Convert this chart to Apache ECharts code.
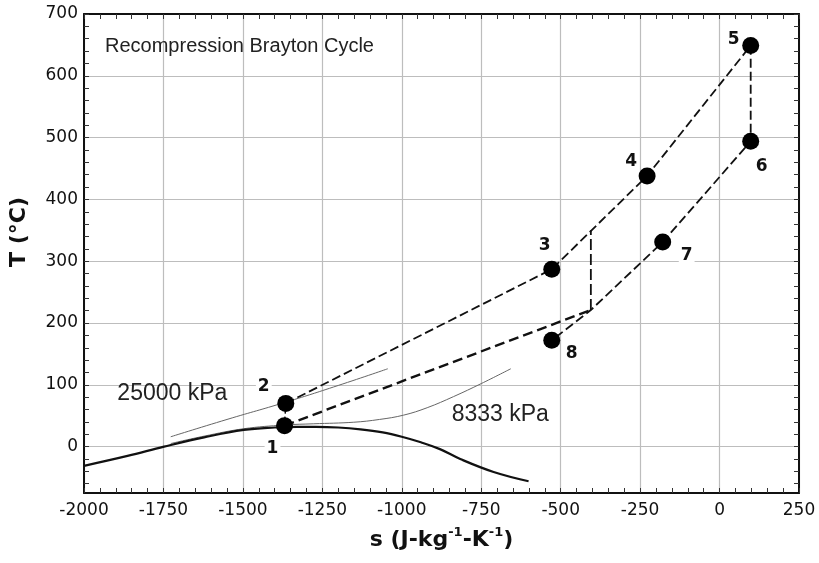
<!DOCTYPE html>
<html>
<head>
<meta charset="utf-8">
<script src="https://cdn.jsdelivr.net/npm/echarts@6.0.0/dist/echarts.min.js"></script>
<style>
html,body{margin:0;padding:0;background:#fff;}
#chart{width:819px;height:563px;}
</style>
</head>
<body>
<div id="chart"></div>
<script>
// ---- data ----
const xTickStep = 250;
const yTickLabels = [0, 100, 200, 300, 400, 500, 600, 700];
const yMinorTicks = [-60,-40,-20,0,20,40,60,80,100,120,140,160,180,200,220,240,260,280,300,320,340,360,380,400,420,440,460,480,500,520,540,560,580,600,620,640,660,680,700];

// saturation dome (s, T)
const domeS = [-2000,-1863,-1748,-1622,-1497,-1400,-1330,-1270,-1200,-1130,-1060,-1000,-940,-880,-816,-711,-601];
const domeT = [-31,-15,0,15,27,31,32,32,31,28,23,16,7,-4,-20,-41,-56];

// 25000 kPa isobar
const iso25000S = [-1727,-1550,-1365,-1200,-1044];
const iso25000T = [16,44,72,99,126];

// 8333 kPa isobar
const iso8333S = [-1727,-1622,-1497,-1369,-1277,-1151,-1070,-994,-920,-837,-750,-657];
const iso8333T = [5,17,29,35,37,39.5,44,51,63,81,102,126];

// state points
const stateNames = ['1','2','3','4','5','6','7','8'];
const stateS = [-1369,-1365,-528,-228,98,98,-179,-528];
const stateT = [34,70,287,438,649,494,331,172];

// mixing junction & recompressor outlet
const junctionS = -405, junctionT = 221;
const recompTopT = 350;

// text annotations
const isoLabelText = ['25000 kPa', '8333 kPa'];
const isoLabelS = [-1722, -690];
const isoLabelT = [85, 51];

// ---- helpers ----
const pairs = (xs, ys) => xs.map((x, i) => [x, ys[i]]);
const pt = i => [stateS[i], stateT[i]];

// main cycle path: 2 -> 3 -> 4 -> 5 -> 6 -> 7 -> junction -> 8
const mainPath = [pt(1), pt(2), pt(3), pt(4), pt(5), pt(6), [junctionS, junctionT], pt(7)];
const lowPath = [pt(0), [junctionS, junctionT]];
const vertPath = [[junctionS, junctionT], [junctionS, recompTopT]];
const compPath = [pt(0), pt(1)];

const labelOffsets = [[-12,23],[-22,-17],[-7,-24],[-16,-14],[-17,-6],[11,25],[24,14],[20,13]];

const dashStyle = {color:'#111', width:1.8, type:[9,4]};
const tickColor = '#333';

const chart = echarts.init(document.getElementById('chart'));
chart.setOption({
  animation:false,
  backgroundColor:'#fff',
  title:{
    text:'Recompression Brayton Cycle',
    left:105, top:36,
    padding:0,
    textStyle:{fontFamily:'Liberation Sans', fontSize:20, fontWeight:'normal', color:'#222'}
  },
  grid:{left:83, right:20, top:14, bottom:70, containLabel:false},
  xAxis:[{
    type:'value', min:-2000, max:250, interval:xTickStep, position:'bottom',
    name:'s (J-kg{sup|-1}-K{sup|-1})',
    nameLocation:'middle', nameGap:33,
    nameTextStyle:{fontFamily:'DejaVu Sans', fontSize:22, fontWeight:'bold', color:'#111', lineHeight:28,
      rich:{sup:{fontFamily:'DejaVu Sans', fontSize:13, fontWeight:'bold', color:'#111', verticalAlign:'top', lineHeight:13, padding:[0,0,15,0]}}},
    axisLine:{show:true, onZero:false, lineStyle:{color:'#111', width:2}},
    axisTick:{show:true, inside:true, length:5, lineStyle:{color:tickColor}},
    minorTick:{show:true, splitNumber:5, length:5, lineStyle:{color:tickColor}},
    axisLabel:{margin:9, fontFamily:'DejaVu Sans', fontSize:17, color:'#111', formatter:v => String(v)},
    splitLine:{show:true, lineStyle:{color:'#bdbdbd', width:1.2}}
  },{
    type:'value', min:-2000, max:250, interval:xTickStep, position:'top',
    axisLine:{show:true, onZero:false, lineStyle:{color:'#111', width:2}},
    axisTick:{show:true, inside:true, length:5, lineStyle:{color:tickColor}},
    minorTick:{show:true, splitNumber:5, length:5, lineStyle:{color:tickColor}},
    axisLabel:{show:false},
    splitLine:{show:false}
  }],
  yAxis:[{
    type:'value', min:-75, max:700, position:'left',
    name:'T (°C)', nameLocation:'middle', nameGap:54,
    nameTextStyle:{fontFamily:'DejaVu Sans', fontSize:22, fontWeight:'bold', color:'#111', padding:[0,0,0,43]},
    axisLine:{show:true, onZero:false, lineStyle:{color:'#111', width:2}},
    axisTick:{show:false, customValues:yTickLabels},
    axisLabel:{margin:6, customValues:yTickLabels, fontFamily:'DejaVu Sans', fontSize:17, color:'#111'},
    splitLine:{show:true, lineStyle:{color:'#bdbdbd', width:1.2}}
  },{
    type:'value', min:-75, max:700, position:'left',
    axisLine:{show:false, onZero:false},
    axisTick:{show:true, inside:true, length:5, customValues:yMinorTicks, lineStyle:{color:tickColor}},
    axisLabel:{show:false},
    splitLine:{show:false}
  },{
    type:'value', min:-75, max:700, position:'right',
    axisLine:{show:true, onZero:false, lineStyle:{color:'#111', width:2}},
    axisTick:{show:true, inside:true, length:5, customValues:yMinorTicks, lineStyle:{color:tickColor}},
    axisLabel:{show:false},
    splitLine:{show:false}
  }],
  series:[
    {type:'line', data:pairs(domeS, domeT), smooth:0.4, showSymbol:false, symbol:'none',
      lineStyle:{color:'#111', width:2.2}, z:3},
    {type:'line', data:pairs(iso25000S, iso25000T), smooth:true, symbol:'none',
      lineStyle:{color:'#666', width:1}, z:2},
    {type:'line', data:pairs(iso8333S, iso8333T), smooth:0.4, symbol:'none',
      lineStyle:{color:'#666', width:1}, z:2},
    {type:'line', data:mainPath, symbol:'none', lineStyle:dashStyle, z:4},
    {type:'line', data:lowPath, symbol:'none', lineStyle:{color:'#111', width:2.4, type:[10,5]}, z:4},
    {type:'line', data:vertPath, symbol:'none', lineStyle:{color:'#111', width:1.8, type:[11,4]}, z:4},
    {type:'line', data:compPath, symbol:'none', lineStyle:{color:'#111', width:1.5, type:[3,3]}, z:4},
    {type:'scatter', symbol:'circle', symbolSize:17, itemStyle:{color:'#000', opacity:1}, z:6,
      data:stateNames.map((n, i) => ({
        value:[stateS[i], stateT[i]], name:n,
        label:{show:true, formatter:n, position:'inside', offset:labelOffsets[i],
          fontFamily:'DejaVu Sans', fontSize:17, fontWeight:'bold', color:'#111',
          backgroundColor:'#fff', padding:[0,2]}
      }))
    },
    {type:'scatter', symbolSize:0, z:5, itemStyle:{opacity:1},
      data:isoLabelText.map((t, i) => ({
        value:[isoLabelS[i], isoLabelT[i]], name:t,
        label:{show:true, formatter:t, position:'inside',
          fontFamily:'Liberation Sans', fontSize:23, color:'#222'}
      }))
    }
  ]
});
</script>
</body>
</html>
